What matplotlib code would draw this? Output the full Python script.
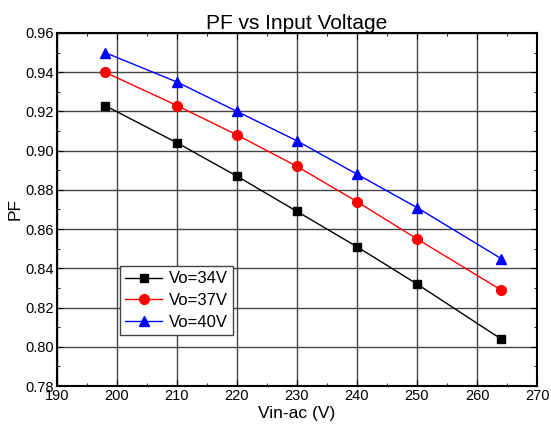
import numpy as np
import matplotlib
matplotlib.use('Agg')
import matplotlib.pyplot as plt
from matplotlib.ticker import MultipleLocator

plt.rcParams['font.family'] = ['Liberation Sans', 'DejaVu Sans']

# data
vin = [198, 210, 220, 230, 240, 250, 264]
pf_34 = [0.923, 0.904, 0.887, 0.869, 0.851, 0.832, 0.804]
pf_37 = [0.940, 0.923, 0.908, 0.892, 0.874, 0.855, 0.829]
pf_40 = [0.950, 0.935, 0.920, 0.905, 0.888, 0.871, 0.845]

fig = plt.figure(figsize=(5.51, 4.30), dpi=100)
ax = fig.add_axes([0.1034, 0.1023, 0.8712, 0.821])

ax.plot(vin, pf_34, color='black', marker='s', ms=6, lw=1, label='Vo=34V')
ax.plot(vin, pf_37, color='red', marker='o', ms=7, lw=1, label='Vo=37V')
ax.plot(vin, pf_40, color='blue', marker='^', ms=7.5, lw=1, label='Vo=40V')

ax.set_xlim(190, 270)
ax.set_ylim(0.78, 0.96)
ax.xaxis.set_major_locator(MultipleLocator(10))
ax.xaxis.set_minor_locator(MultipleLocator(5))
ax.yaxis.set_major_locator(MultipleLocator(0.02))
ax.yaxis.set_minor_locator(MultipleLocator(0.01))
ax.yaxis.set_major_formatter(matplotlib.ticker.FormatStrFormatter('%.2f'))

ax.grid(True, which='major', color='#444444', lw=1)
ax.set_axisbelow(True)
ax.tick_params(which='both', direction='in', top=True, right=True, labelsize=10.5, pad=2)
ax.tick_params(which='major', length=4)
ax.tick_params(which='minor', length=2)
for s in ax.spines.values():
    s.set_linewidth(1.5)

ax.set_title('PF vs Input Voltage', fontsize=15, pad=3)
ax.set_xlabel('Vin-ac (V)', fontsize=12.5, labelpad=2)
ax.set_ylabel('PF', fontsize=12.5, labelpad=2)

leg = ax.legend(loc='lower left', bbox_to_anchor=(0.132, 0.145), fontsize=12,
                fancybox=False, framealpha=1, edgecolor='#444444',
                handlelength=2.2, borderpad=0.3, labelspacing=0.4, handletextpad=0.4,
                borderaxespad=0)
leg.get_frame().set_linewidth(1)

fig.savefig('out.png', dpi=100)
